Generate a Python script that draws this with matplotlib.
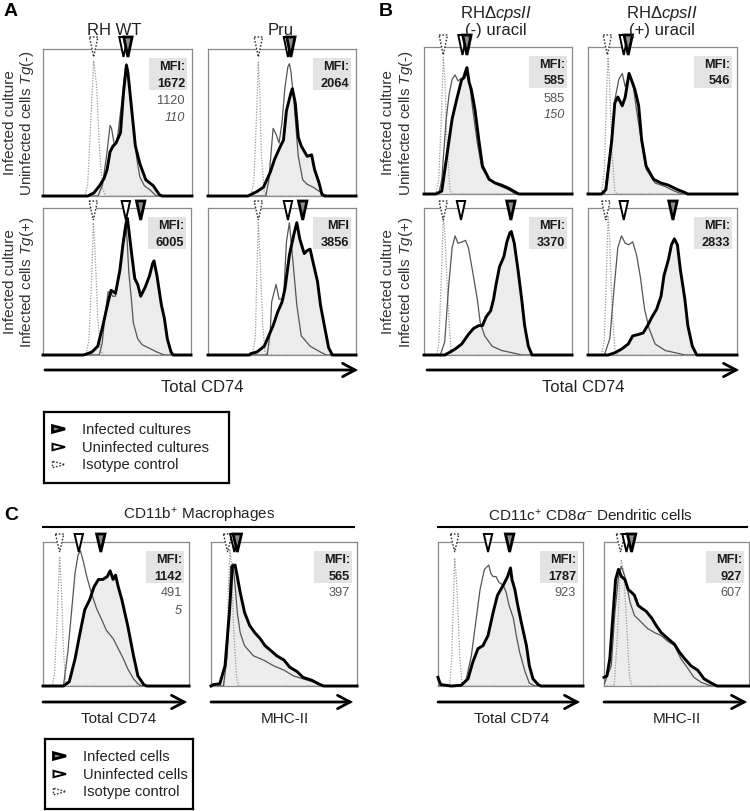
import matplotlib
matplotlib.use('Agg')
import matplotlib.pyplot as plt
from matplotlib.patches import Rectangle, FancyArrowPatch, Polygon
from matplotlib.lines import Line2D
import matplotlib.transforms as mtransforms

plt.rcParams['font.family'] = ['Liberation Sans', 'DejaVu Sans']
plt.rcParams['mathtext.fontset'] = 'custom'
plt.rcParams['mathtext.rm'] = 'Liberation Sans'
plt.rcParams['mathtext.it'] = 'Liberation Sans:italic'
plt.rcParams['mathtext.bf'] = 'Liberation Sans:bold'

# ---------------- DATA (x = % of axis range, y = % of axis height) ----------------
# Panel A, RH WT, uninfected cells Tg(-)
A_RH_neg_iso = [(0, 0), (28, 0), (30, 8), (32, 50), (34, 92), (36, 75), (38, 30), (40, 5), (42, 0), (100, 0)]
A_RH_neg_uninf = [(0, 0), (37, 0), (40, 8), (43, 30), (45, 48), (46, 46), (48, 34), (50, 40), (53, 65), (55, 85),
                  (56, 90), (58, 75), (61, 43), (63, 25), (65, 13), (68, 7), (72, 4), (76, 0), (100, 0)]
A_RH_neg_inf = [(0, 0), (30, 0), (34, 2), (38, 7), (41, 12), (43, 18), (45, 30), (47, 34), (49, 36), (52, 43),
                (54, 70), (56, 89), (57, 84), (60, 54), (62, 34), (65, 22), (69, 11), (74, 7), (78, 1), (80, 0), (100, 0)]
# Panel A, Pru, uninfected cells Tg(-)
A_Pru_neg_iso = [(0, 0), (29, 0), (31, 10), (33, 60), (34, 91), (35, 70), (36, 30), (38, 3), (40, 0), (100, 0)]
A_Pru_neg_uninf = [(0, 0), (39, 0), (41, 10), (44, 46), (46, 42), (48, 36), (50, 50), (52, 74), (54, 88), (55, 90),
                   (56, 85), (58, 65), (61, 27), (64, 11), (67, 8), (71, 6), (77, 2), (80, 0), (100, 0)]
A_Pru_neg_inf = [(0, 0), (27, 0), (29, 1), (33, 3), (37.5, 6), (42, 16), (45, 25), (49, 34), (51, 38), (53, 58),
                 (56, 70), (57, 73), (59, 63), (61, 40), (63, 34), (67, 27), (70, 28), (72, 18), (75, 9), (77, 1),
                 (79, 0), (100, 0)]
# Panel A, RH WT, infected cells Tg(+)
A_RH_pos_iso = [(0, 0), (29, 0), (31, 10), (33, 55), (34, 90), (35, 75), (37, 25), (39, 3), (41, 0), (100, 0)]
A_RH_pos_uninf = [(0, 0), (38, 0), (40, 8), (42, 28), (44, 43), (46, 42), (47, 40), (49, 40), (51, 52), (53, 68),
                  (55, 85), (56, 90), (57, 75), (58, 56), (60, 35), (61, 22), (64, 11), (67, 7), (71, 5), (77, 2),
                  (82, 0), (100, 0)]
A_RH_pos_inf = [(0, 0), (27, 0), (29, 0.5), (33, 2), (37, 6), (40, 18), (44, 36), (46, 44), (49, 42), (52, 58),
                (54, 75), (56, 89), (57, 93), (58, 85), (60, 68), (62, 52), (64, 48), (66, 40), (69, 46), (72, 54),
                (74, 62), (75, 64), (77, 54), (80, 34), (82, 25), (84, 11), (86.5, 2), (88, 0), (100, 0)]
# Panel A, Pru, infected cells Tg(+)
A_Pru_pos_iso = [(0, 0), (30, 0), (32, 12), (33, 55), (34, 90), (35, 70), (37, 20), (38.5, 2), (40, 0), (100, 0)]
A_Pru_pos_uninf = [(0, 0), (40, 0), (42, 15), (43, 36), (46, 48), (48, 38), (51, 38), (53, 77), (55, 90), (57, 68),
                   (60, 34), (63, 13), (69, 6), (76, 2), (80, 0), (100, 0)]
A_Pru_pos_inf = [(0, 0), (28, 0), (29, 1), (33, 2), (38, 6), (41, 13), (44, 20), (47, 29), (50, 36), (52, 45),
                 (55, 68), (58, 82), (60, 90), (62, 79), (65, 69), (67, 71), (69, 72), (71, 63), (74, 50), (76, 34),
                 (79, 18), (81.5, 5), (84, 0), (100, 0)]
# Panel B, RH dcpsII (-) uracil, Tg(-)
B_minus_neg_iso = [(0, 0), (8, 0), (10, 10), (12, 60), (13, 93), (14, 80), (15.5, 35), (17.5, 3), (19, 0), (100, 0)]
B_minus_neg_uninf = [(0, 0), (10, 0), (12, 10), (15, 51), (17, 68), (19, 78), (21, 81), (23, 77), (26, 79), (28, 85),
                     (31, 73), (33, 57), (36, 35), (39, 18), (44, 10), (50, 6), (57, 3), (62, 0), (100, 0)]
B_minus_neg_inf = [(0, 0), (8, 0), (12, 2), (15, 23), (19, 51), (22, 64), (25.5, 78), (27, 79), (29, 86), (30.5, 76),
                   (32, 71), (34.5, 57), (37, 37), (39.5, 19), (44, 10), (48, 7.5), (52.5, 6), (57, 4), (60.5, 2),
                   (64, 0), (100, 0)]
# Panel B, RH dcpsII (+) uracil, Tg(-)
B_plus_neg_iso = [(0, 0), (9, 0), (11, 15), (12.5, 70), (13.5, 93), (14.5, 75), (16, 30), (18, 2), (19.5, 0), (100, 0)]
B_plus_neg_uninf = [(0, 0), (11, 0), (14.6, 26), (18, 64), (20.7, 78), (23, 82), (25, 73), (28, 82), (30, 76),
                    (32.6, 57), (36, 35), (39, 17), (45, 7.5), (52, 5), (58, 2), (63, 0), (100, 0)]
B_plus_neg_inf = [(0, 0), (9, 0), (12, 3), (16, 37), (18, 62), (20, 66), (23, 60), (25, 66), (27.5, 82), (29, 78),
                  (31.5, 71), (34, 60), (36, 37), (39, 19), (44, 10), (49, 7.5), (54, 6), (60, 3), (65, 1), (67, 0),
                  (100, 0)]
# Panel B, (-) uracil, Tg(+)
B_minus_pos_iso = [(0, 0), (8.5, 0), (10, 8), (12, 60), (13, 94), (14, 85), (16, 40), (18, 5), (19, 0), (100, 0)]
B_minus_pos_uninf = [(0, 0), (11, 0), (14, 9), (16.5, 45), (19, 73), (21, 81), (23, 76), (26, 77), (28, 78), (30, 73),
                     (33, 56), (36, 38), (38, 22), (41, 13), (46, 6), (52.6, 3), (62, 1), (66, 0), (100, 0)]
B_minus_pos_inf = [(0, 0), (14, 0), (17.6, 2), (21, 4), (25.5, 7.5), (30, 14), (33.4, 18), (37, 20), (39.5, 20),
                   (42, 26), (45, 30), (47, 38), (48.5, 47), (51, 60), (54, 67), (56, 77), (58, 83), (59, 84),
                   (61, 76), (63.5, 58), (66, 38), (68, 20), (70.5, 6), (73, 0), (100, 0)]
# Panel B, (+) uracil, Tg(+)
B_plus_pos_iso = [(0, 0), (9, 0), (11, 10), (12.5, 60), (13.5, 94), (14.5, 80), (16, 35), (18, 4), (19.5, 0), (100, 0)]
B_plus_pos_uninf = [(0, 0), (11, 0), (14.6, 11), (17.5, 45), (20, 73), (22.5, 81), (25, 76), (27.4, 75), (30, 77),
                    (32.6, 68), (35, 54), (38, 31), (41, 18), (45, 7.5), (52, 3), (61, 1), (65, 0), (100, 0)]
B_plus_pos_inf = [(0, 0), (13.5, 0), (18, 1.5), (22.5, 4), (27, 7.5), (30, 13), (34, 14), (37, 15), (40, 20),
                  (43, 26), (46, 31), (49, 40), (51, 54), (54, 65), (56, 75), (58, 79), (60, 75), (62, 58), (65, 38),
                  (67, 20), (70, 6), (73, 0), (100, 0)]
# Panel C, CD11b+ macrophages, total CD74
C_mac_cd74_iso = [(0, 0), (6.5, 0), (8, 10), (10, 55), (11.4, 90), (12.5, 70), (14, 25), (15.5, 2), (17, 0), (100, 0)]
C_mac_cd74_uninf = [(0, 0), (14, 0), (17, 23.5), (19.5, 51), (22, 79), (24, 91), (25.6, 94), (27.5, 87), (30, 76),
                    (33, 65), (36.6, 54), (40, 46.5), (43.5, 38.5), (48, 33), (51.5, 26), (55, 19), (58, 12), (62, 5),
                    (65, 1.5), (67.5, 0), (100, 0)]
C_mac_cd74_inf = [(0, 0), (14, 0), (18, 3), (22, 19), (25, 35), (28.6, 53), (32, 60), (35, 69), (38, 74), (41, 74),
                  (44, 76), (46, 80), (48, 74), (49.7, 77), (51.5, 69), (54, 60), (56, 51), (58, 42), (62, 21),
                  (65, 7), (69, 1), (71, 0), (100, 0)]
# Panel C, CD11b+ macrophages, MHC-II
C_mac_mhc_iso = [(0, 0), (9, 0), (10.5, 20), (12, 70), (13, 95), (14, 85), (15.5, 40), (17.6, 5), (19, 0), (100, 0)]
C_mac_mhc_uninf = [(0, 0), (8.5, 0), (11, 20), (12, 40), (13.5, 83), (15, 85), (16.5, 70), (18, 51), (20, 37),
                   (23, 28), (29, 21), (36, 18), (43, 14), (50, 11), (56.5, 7), (63, 5), (72.5, 2), (77, 0), (100, 0)]
C_mac_mhc_inf = [(0, 0), (1.6, 1), (6, 1.5), (9.6, 14), (12.6, 51), (14.6, 83), (16.5, 84), (18, 76), (20, 65),
                 (23, 51), (26.5, 42), (30, 37), (33.6, 33), (37, 28), (40.5, 25), (45, 21), (50, 18), (54, 13),
                 (59, 10), (63, 6), (69, 4), (73.7, 1.5), (77, 0), (100, 0)]
# Panel C, CD11c+ CD8a- dendritic cells, total CD74
C_dc_cd74_iso = [(0, 0), (8, 0), (9.5, 20), (11.5, 89), (13, 70), (15, 20), (16.5, 2), (18, 0), (100, 0)]
C_dc_cd74_uninf = [(0, 0), (16, 0), (19.5, 5), (23, 21), (26, 44), (29, 67), (32, 81), (35, 84), (36.5, 78), (38, 76),
                   (40, 76), (42, 72), (45, 70), (47, 65), (49, 56), (52, 47), (54, 35), (56.3, 23.5), (60, 10),
                   (63, 2), (66.7, 0), (100, 0)]
C_dc_cd74_inf = [(0, 6), (1, 3), (2, 1), (9, 0), (16, 0.5), (20.7, 5), (24, 16.6), (27.6, 26), (31, 28), (34.5, 35),
                 (38, 51), (41, 63), (45, 70), (48, 76), (50, 82), (51, 74), (53, 67), (55, 56), (57.5, 44), (61, 28),
                 (63, 14), (65.5, 5), (69, 1), (71, 0), (100, 0)]
# Panel C, CD11c+ CD8a- dendritic cells, MHC-II
C_dc_mhc_iso = [(0, 0), (7, 0), (9, 30), (11, 75), (12, 87), (13.5, 80), (15.5, 45), (17.5, 8), (19, 0), (100, 0)]
C_dc_mhc_uninf = [(0, 1), (5, 14), (7.5, 51), (10, 76), (12, 83), (14.4, 76), (18, 58), (21, 49), (26, 44), (30, 40),
                  (35, 37), (39.5, 35), (44, 31), (48.6, 28), (53, 19), (58, 12), (62, 6), (67, 2.5), (74, 0), (100, 0)]
C_dc_mhc_inf = [(0, 6), (2, 7), (4, 19), (6, 47), (8, 74), (10, 81), (12, 76), (14.4, 74), (16.7, 67), (19, 65),
                (21, 63), (23.5, 56), (26, 54), (29, 52), (33, 47), (36, 42), (39.5, 37), (44, 33), (48.6, 29),
                (52, 23.5), (55.6, 19), (60, 14), (64.6, 11), (69, 5), (74, 2), (78, 0), (100, 0)]

# MFI arrow-head positions (isotype, uninfected, infected), % of axis range
A_RH_neg_arrows = [34, 54, 57]
A_Pru_neg_arrows = [34, 54, 56]
A_RH_pos_arrows = [34, 56, 66]
A_Pru_pos_arrows = [34, 54, 64]
B_minus_neg_arrows = [13, 26, 29]
B_plus_neg_arrows = [13, 24, 27]
B_minus_pos_arrows = [13, 25, 58.7]
B_plus_pos_arrows = [12, 24, 57]
C_mac_cd74_arrows = [11.4, 24.5, 39.6]
C_mac_mhc_arrows = [11.4, 16, 18]
C_dc_cd74_arrows = [11.5, 34.5, 49.4]
C_dc_mhc_arrows = [11.4, 15.5, 19]

# MFI texts: (bold header, bold infected value, uninfected value, isotype value)
A_RH_neg_mfi = ["MFI:", "1672", "1120", "110"]
A_Pru_neg_mfi = ["MFI:", "2064", None, None]
A_RH_pos_mfi = ["MFI:", "6005", None, None]
A_Pru_pos_mfi = ["MFI", "3856", None, None]
B_minus_neg_mfi = ["MFI:", "585", "585", "150"]
B_plus_neg_mfi = ["MFI:", "546", None, None]
B_minus_pos_mfi = ["MFI:", "3370", None, None]
B_plus_pos_mfi = ["MFI:", "2833", None, None]
C_mac_cd74_mfi = ["MFI:", "1142", "491", "5"]
C_mac_mhc_mfi = ["MFI:", "565", "397", None]
C_dc_cd74_mfi = ["MFI:", "1787", "923", None]
C_dc_mhc_mfi = ["MFI:", "927", "607", None]

col_titles_A = ["RH WT", "Pru"]
col_titles_B = [("RH$\\mathit{\\Delta cpsII}$", "(-) uracil"), ("RH$\\mathit{\\Delta cpsII}$", "(+) uracil")]
row_labels = [("Infected culture", "Uninfected cells $\\mathit{Tg}$(-)"),
              ("Infected culture", "Infected cells $\\mathit{Tg}$(+)")]
legend_A = ["Infected cultures", "Uninfected cultures", "Isotype control"]
legend_C = ["Infected cells", "Uninfected cells", "Isotype control"]
group_titles_C = ["CD11b$^{+}$ Macrophages", "CD11c$^{+}$ CD8$\\alpha^{-}$ Dendritic cells"]
x_labels_C = ["Total CD74", "MHC-II", "Total CD74", "MHC-II"]

# ---------------- FIGURE ----------------
W, H = 750, 812
fig = plt.figure(figsize=(W / 100, H / 100), dpi=100)
fig.patch.set_facecolor('white')
TXT = '#222222'

def fx(x):
    return x / W

def fy(y):
    return 1 - y / H

def add_ax(box):
    x0, y0, x1, y1 = box
    return fig.add_axes([fx(x0), fy(y1), (x1 - x0) / W, (y1 - y0) / H])

def ftext(x, y, s, **kw):
    kw.setdefault('color', TXT)
    return fig.text(fx(x), fy(y), s, **kw)

FILL = '#ececec'
ISO_ST = dict(facecolor='white', edgecolor='#333333', linewidth=1.0, linestyle=(0, (1.2, 1.2)))
UNINF_ST = dict(facecolor='white', edgecolor='black', linewidth=1.4)
INF_ST = dict(facecolor='#8e8e8e', edgecolor='black', linewidth=2.0)

def hist_panel(box, iso, uninf, inf, arrows, mfi, up_px, dn_px):
    ax = add_ax(box)
    wpx = box[2] - box[0]
    hpx = box[3] - box[1]
    ax.set_xlim(0, 100)
    ax.set_ylim(0, 100)
    ax.set_xticks([])
    ax.set_yticks([])
    for s in ax.spines.values():
        s.set_color('#8a8a8a')
        s.set_linewidth(0.9)
    xi = [p[0] for p in inf]
    yi = [p[1] for p in inf]
    ax.fill_between(xi, yi, 0, color=FILL, lw=0, zorder=1)
    ax.plot([p[0] for p in iso], [p[1] for p in iso], color='#9a9a9a', lw=0.9,
            ls=(0, (1, 1.2)), zorder=2)
    ax.plot([p[0] for p in uninf], [p[1] for p in uninf], color='#555555', lw=0.9, zorder=3)
    ax.plot(xi, yi, color='black', lw=2.1, zorder=4, clip_on=False, solid_joinstyle='round')
    # arrowheads marking MFI
    tr = mtransforms.blended_transform_factory(ax.transData, ax.transAxes)
    hw = 4.2 / wpx * 100
    up = up_px / hpx
    dn = dn_px / hpx
    for x, st in zip(arrows, [ISO_ST, UNINF_ST, INF_ST]):
        poly = Polygon([(x - hw, 1 + up), (x + hw, 1 + up), (x, 1 - dn)], closed=True,
                       transform=tr, clip_on=False, zorder=10, joinstyle='miter', **st)
        ax.add_patch(poly)
    # MFI box
    rx = 1 - 7.0 / wpx
    bw = 38.0 / wpx
    ax.add_patch(Rectangle((rx + 1.5 / wpx - bw, 1 - 41.0 / hpx), bw, 32.0 / hpx,
                           transform=ax.transAxes, facecolor='#e3e3e3', edgecolor='none', zorder=5))
    offs = [17, 33.5, 50.5, 67.5]
    for i, (t, off) in enumerate(zip(mfi, offs)):
        if t is None:
            continue
        kw = dict(ha='right', va='center', fontsize=9.2, transform=ax.transAxes, zorder=6)
        if i < 2:
            kw.update(fontweight='bold', color='#1a1a1a')
        elif i == 2:
            kw.update(color='#555555')
        else:
            kw.update(color='#555555', style='italic')
        ax.text(rx, 1 - off / hpx, t, **kw)
    return ax

TOP = (12, 8)
BOT = (7, 12)
CC = (8, 10)
# Panel A
hist_panel((43, 50, 192, 197), A_RH_neg_iso, A_RH_neg_uninf, A_RH_neg_inf, A_RH_neg_arrows, A_RH_neg_mfi, *TOP)
hist_panel((208, 50, 356, 197), A_Pru_neg_iso, A_Pru_neg_uninf, A_Pru_neg_inf, A_Pru_neg_arrows, A_Pru_neg_mfi, *TOP)
hist_panel((43, 209, 191, 356), A_RH_pos_iso, A_RH_pos_uninf, A_RH_pos_inf, A_RH_pos_arrows, A_RH_pos_mfi, *BOT)
hist_panel((208, 209, 356, 356), A_Pru_pos_iso, A_Pru_pos_uninf, A_Pru_pos_inf, A_Pru_pos_arrows, A_Pru_pos_mfi, *BOT)
# Panel B
hist_panel((424, 48, 572, 195), B_minus_neg_iso, B_minus_neg_uninf, B_minus_neg_inf, B_minus_neg_arrows,
           B_minus_neg_mfi, *TOP)
hist_panel((588, 48, 737, 195), B_plus_neg_iso, B_plus_neg_uninf, B_plus_neg_inf, B_plus_neg_arrows,
           B_plus_neg_mfi, *TOP)
hist_panel((424, 209, 572, 356), B_minus_pos_iso, B_minus_pos_uninf, B_minus_pos_inf, B_minus_pos_arrows,
           B_minus_pos_mfi, *BOT)
hist_panel((588, 209, 737, 356), B_plus_pos_iso, B_plus_pos_uninf, B_plus_pos_inf, B_plus_pos_arrows,
           B_plus_pos_mfi, *BOT)
# Panel C
hist_panel((43, 543, 189, 687), C_mac_cd74_iso, C_mac_cd74_uninf, C_mac_cd74_inf, C_mac_cd74_arrows,
           C_mac_cd74_mfi, *CC)
hist_panel((211, 543, 357, 687), C_mac_mhc_iso, C_mac_mhc_uninf, C_mac_mhc_inf, C_mac_mhc_arrows,
           C_mac_mhc_mfi, *CC)
hist_panel((438, 543, 583, 687), C_dc_cd74_iso, C_dc_cd74_uninf, C_dc_cd74_inf, C_dc_cd74_arrows,
           C_dc_cd74_mfi, *CC)
hist_panel((604, 543, 749, 687), C_dc_mhc_iso, C_dc_mhc_uninf, C_dc_mhc_inf, C_dc_mhc_arrows,
           C_dc_mhc_mfi, *CC)

# panel letters
ftext(4, 3, 'A', fontsize=14, fontweight='bold', ha='left', va='top', color='black')
ftext(379, 3, 'B', fontsize=14, fontweight='bold', ha='left', va='top', color='black')
ftext(4, 507, 'C', fontsize=14, fontweight='bold', ha='left', va='top', color='black')

# column titles
ftext(114, 35, col_titles_A[0], fontsize=12, ha='center', va='baseline')
ftext(281, 35, col_titles_A[1], fontsize=12, ha='center', va='baseline')
for cx, (l1, l2) in zip([496, 662], col_titles_B):
    ftext(cx, 18, l1, fontsize=12, ha='center', va='baseline')
    ftext(cx, 35, l2, fontsize=12, ha='center', va='baseline')

# row labels
for (xa, xb) in [(10, 27), (388, 406)]:
    for yc, (l1, l2) in zip([123, 282], row_labels):
        ftext(xa, yc, l1, fontsize=11, rotation=90, ha='center', va='center', color='#333333')
        ftext(xb, yc, l2, fontsize=11, rotation=90, ha='center', va='center', color='#333333')

def farrow(x0, x1, y, lw=2.0):
    a = FancyArrowPatch((fx(x0), fy(y)), (fx(x1), fy(y)), transform=fig.transFigure,
                        arrowstyle='->,head_length=0.6,head_width=0.32', mutation_scale=15,
                        lw=lw, color='black', shrinkA=0, shrinkB=0, joinstyle='miter')
    fig.add_artist(a)

farrow(45, 358, 371)
farrow(427, 739, 371)
ftext(202, 388, 'Total CD74', fontsize=12, ha='center', va='center')
ftext(583, 388, 'Total CD74', fontsize=12, ha='center', va='center')

# C axis arrows and labels
for (x0, x1), lab, cx in zip([(43, 187), (211, 353), (438, 580), (604, 747)], x_labels_C, [119, 285, 512, 677]):
    farrow(x0, x1, 703)
    ftext(cx, 719, lab, fontsize=11, ha='center', va='center')

# C group titles and lines
for (x0, x1), t, cx in zip([(43, 354), (438, 747)], group_titles_C, [199, 590]):
    ftext(cx, 516, t, fontsize=11, ha='center', va='center')
    fig.add_artist(Line2D([fx(x0), fx(x1)], [fy(528), fy(528)], transform=fig.transFigure,
                          color='black', lw=1.5))

# legends
def legend_box(box, labels):
    ax = add_ax(box)
    w = box[2] - box[0]
    h = box[3] - box[1]
    ax.set_xlim(0, w)
    ax.set_ylim(h, 0)
    ax.set_xticks([])
    ax.set_yticks([])
    for s in ax.spines.values():
        s.set_color('black')
        s.set_linewidth(1.6)
    rows = [17, 35, 52.5]
    halfs = [3.3, 3.2, 3.2]
    for (lab, y, st, hh) in zip(labels, rows, [INF_ST, UNINF_ST, ISO_ST], halfs):
        ax.add_patch(Polygon([(8.5, y - hh), (8.5, y + hh), (21, y)], closed=True, joinstyle='miter', **st))
        ax.text(38, y, lab, fontsize=10.6, ha='left', va='center', color=TXT)

legend_box((44, 413, 229, 484), legend_A)
legend_box((45, 740, 193, 810), legend_C)

fig.savefig('out.png', dpi=100, facecolor='white')
